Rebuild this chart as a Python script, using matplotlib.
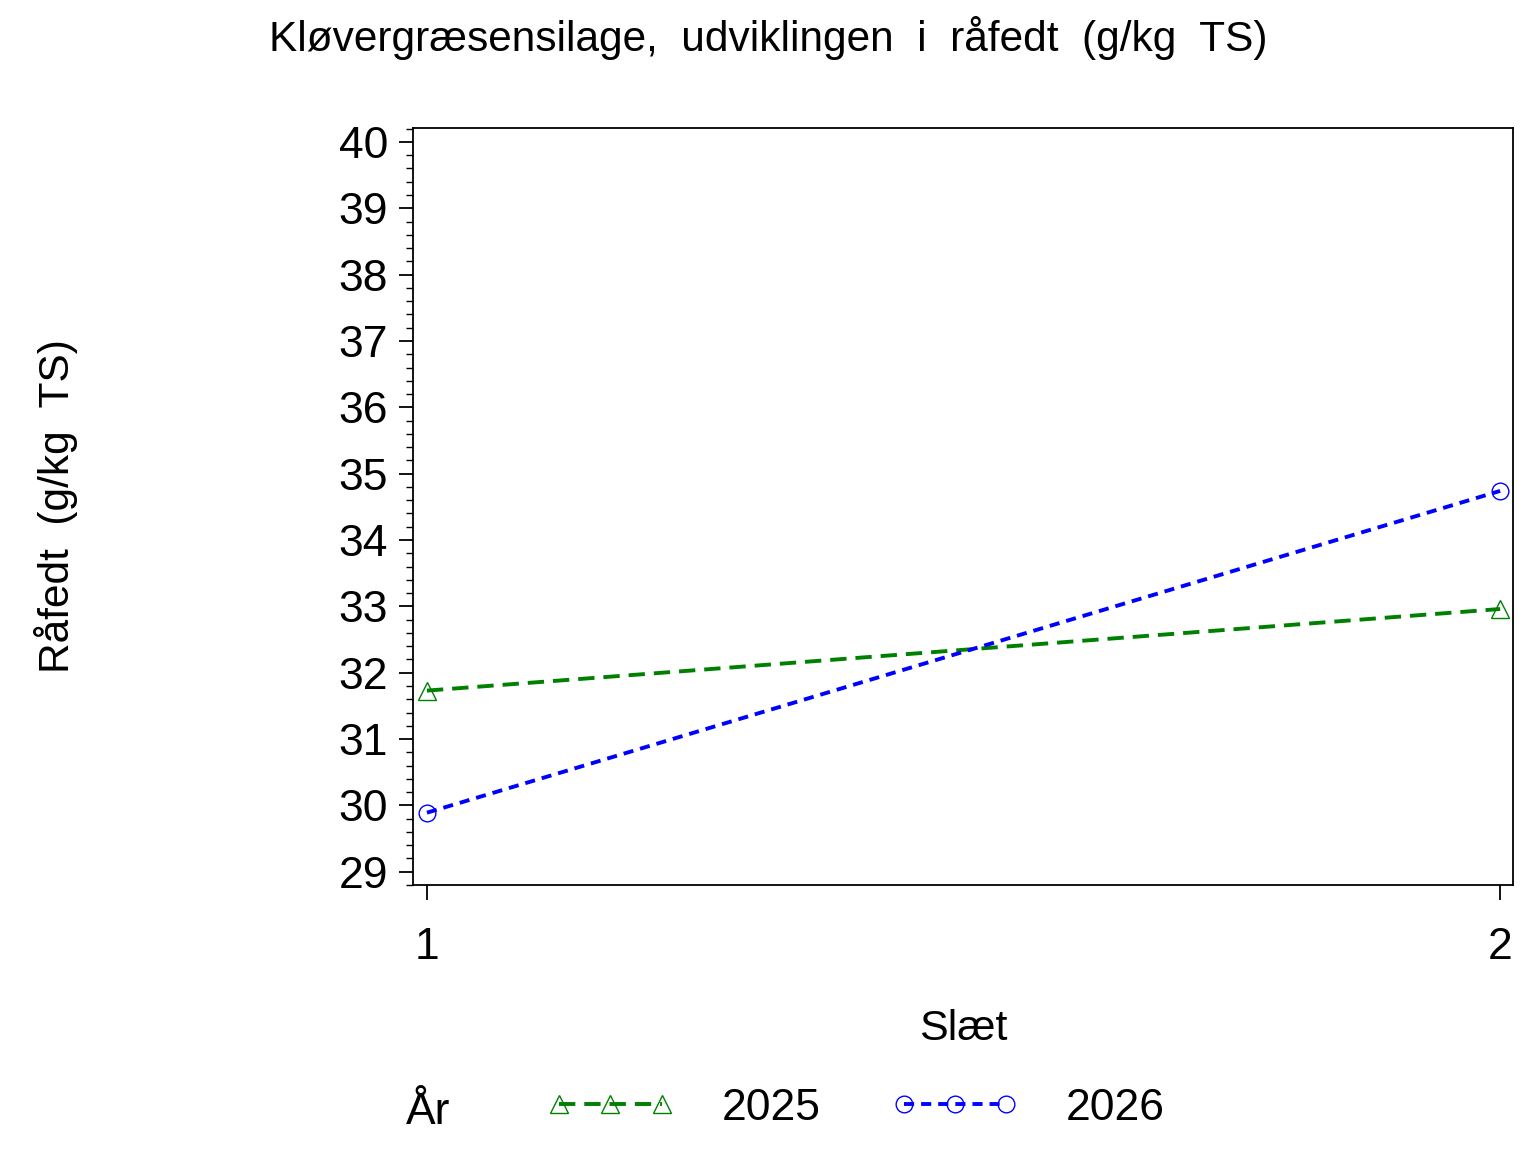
import matplotlib
matplotlib.use("Agg")
import matplotlib.pyplot as plt
from matplotlib.ticker import MultipleLocator

plt.rcParams['font.family'] = ['Liberation Sans', 'DejaVu Sans']

slaet = [1, 2]
raafedt_2025 = [31.73, 32.96]
raafedt_2026 = [29.89, 34.74]
aar_labels = ['2025', '2026']

fig = plt.figure(figsize=(15.36, 11.52), dpi=100)
ax = fig.add_axes([413 / 1536, 1 - 885 / 1152, 1100 / 1536, 757 / 1152])

ax.plot(slaet, raafedt_2025, color='#008000', linestyle=(0, (4.2, 2.3)), linewidth=2.8,
        marker='^', markersize=13, markerfacecolor='none', markeredgewidth=1.0,
        label=aar_labels[0])
ax.plot(slaet, raafedt_2026, color='#0000FF', linestyle=(0, (2.6, 1.8)), linewidth=2.8,
        marker='o', markersize=12, markerfacecolor='none', markeredgewidth=1.0,
        label=aar_labels[1])

ax.set_xlim(0.987, 2.012)
ax.set_ylim(28.80, 40.21)
ax.set_xticks(slaet)
ax.yaxis.set_major_locator(MultipleLocator(1))
ax.yaxis.set_minor_locator(MultipleLocator(0.2))
ax.tick_params(axis='y', which='major', length=10, width=1.3, labelsize=32, pad=8, direction='out')
ax.tick_params(axis='y', which='minor', length=5, width=1.0, direction='out')
ax.tick_params(axis='x', which='major', length=11, width=1.3, labelsize=32, pad=19, direction='out')
for s in ax.spines.values():
    s.set_linewidth(1.3)

ax.set_xlabel('Slæt', fontsize=31, labelpad=30)
ax.set_ylabel('Råfedt  (g/kg  TS)', fontsize=30.5, labelpad=0)
ax.yaxis.set_label_coords(-0.305, 0.5)

fig.suptitle('Kløvergræsensilage,  udviklingen  i  råfedt  (g/kg  TS)', fontsize=30.5,
             y=1 - 38 / 1152, va='center')

fig.text(406 / 1536, 1 - 1112 / 1152, 'År', fontsize=32, va='center', ha='left')
leg = fig.legend(loc='center left', bbox_to_anchor=(506 / 1536, 1 - 1108 / 1152), ncol=2,
                 frameon=False, fontsize=32, numpoints=3, handlelength=2.9,
                 handletextpad=1.05, columnspacing=1.57)

fig.savefig('out.png', dpi=100)
